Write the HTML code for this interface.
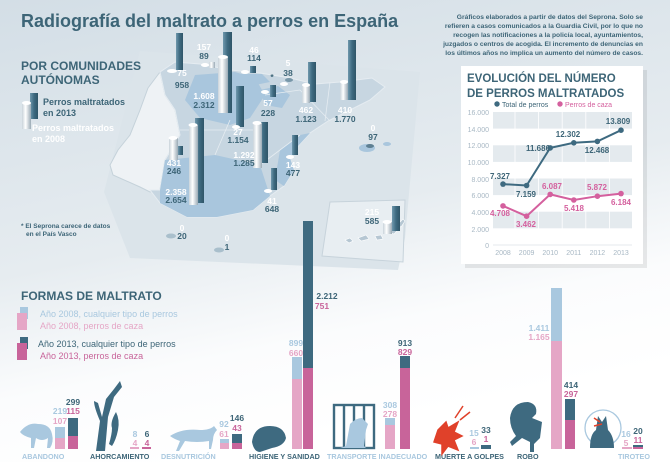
<!DOCTYPE html>
<html><head><meta charset="utf-8"><style>
html,body{margin:0;padding:0;width:670px;height:462px;overflow:hidden;background:#fff}
svg{display:block;font-family:"Liberation Sans",sans-serif}
</style></head><body>
<svg width="670" height="462" viewBox="0 0 670 462" xmlns="http://www.w3.org/2000/svg">
<defs>
<linearGradient id="bg" x1="0" y1="0" x2="0.3" y2="1">
<stop offset="0" stop-color="#d3dee6"/><stop offset="0.55" stop-color="#e6ecf0"/><stop offset="0.8" stop-color="#fbfcfd"/><stop offset="1" stop-color="#ffffff"/></linearGradient>
<linearGradient id="cylD" x1="0" x2="1"><stop offset="0" stop-color="#6f98ad"/><stop offset="0.5" stop-color="#3e6a80"/><stop offset="1" stop-color="#2f5568"/></linearGradient>
<linearGradient id="cylL" x1="0" x2="1"><stop offset="0" stop-color="#c9d3da"/><stop offset="0.4" stop-color="#ffffff"/><stop offset="1" stop-color="#9aaab5"/></linearGradient>
</defs>
<rect width="670" height="462" fill="url(#bg)"/>
<polygon points="140,51 420,72 405,238 398,270 130,258 104,192" fill="#dbe4ea"/>
<polygon points="330,202 405,200 403,262 322,256" fill="#e8eef2" stroke="#c7d3db"/>
<polygon points="160,72 165,95 175,110 180,135 165,160 160,190 150,192 140,187 113,175 110,165 118,150 130,135 140,110 148,88" fill="#eef2f5" stroke="#c5d2da"/>
<polygon points="160,72 175,62 200,64 230,70 260,73 290,78 315,84 340,82 372,78 385,87 370,100 350,110 328,121 310,133 298,146 290,158 294,170 284,186 270,196 253,210 217,217 187,217 160,203 150,190 160,190 165,160 180,135 175,110 165,95" fill="#c7d6e1" stroke="#e5ecf1" stroke-width="1"/>
<polygon points="195,75 235,72 255,78 265,95 250,118 230,125 200,118 185,100" fill="#a9c6dd"/>
<polygon points="160,190 165,160 215,155 260,165 270,196 253,210 217,217 187,217 160,203" fill="#a9c6dd"/>
<polygon points="298,146 290,158 294,170 284,186 275,180 280,150 300,135 310,133" fill="#a9c6dd"/>
<polygon points="260,90 278,86 290,95 282,108 265,105" fill="#a9c6dd"/>
<polygon points="235,74 262,74 270,82 250,86" fill="#a9c6dd"/>
<path d="M180,130 L260,130 M215,155 L230,120 M265,95 L300,90 M300,90 L330,121 M260,165 L300,135 M330,82 L325,121" stroke="#e5ecf1" stroke-width="0.8" fill="none"/>
<ellipse cx="367" cy="148" rx="8" ry="4" fill="#a9c6dd"/><ellipse cx="387" cy="144" rx="4" ry="2" fill="#a9c6dd"/>
<ellipse cx="171" cy="236" rx="5" ry="2.5" fill="#a9bfcc"/><ellipse cx="219" cy="250" rx="5" ry="2.5" fill="#a9bfcc"/>
<path d="M345,240 l5,-2 l3,3 l-4,2z M358,238 l8,-3 l3,4 l-8,2z M375,236 l6,-1 l2,4 l-6,1z M388,232 l8,-5 l3,2 l-5,5z M397,225 l6,-6 l2,2 l-4,6z" fill="#b6c7d3" stroke="#fff" stroke-width="0.6"/>
<g>
<rect x="176" y="33" width="7" height="37" fill="url(#cylD)"/><ellipse cx="172" cy="71" rx="5" ry="2" fill="#fff"/>
<rect x="209" y="62" width="6" height="6" fill="url(#cylL)"/><ellipse cx="205" cy="65" rx="4" ry="2" fill="#fff"/>
<rect x="223" y="32" width="9" height="81" fill="url(#cylD)"/><rect x="218" y="57" width="10" height="56" fill="url(#cylL)"/><ellipse cx="223" cy="57" rx="5" ry="2" fill="#fff"/>
<rect x="250" y="66" width="6" height="7" fill="url(#cylD)"/><ellipse cx="245" cy="72" rx="4" ry="2" fill="#fff"/>
<ellipse cx="289" cy="80" rx="4" ry="2" fill="#7897a8"/><ellipse cx="284" cy="84" rx="4" ry="2" fill="#fff"/>
<rect x="270" y="85" width="6" height="12" fill="url(#cylD)"/><ellipse cx="265" cy="92" rx="4" ry="2" fill="#fff"/>
<rect x="236" y="86" width="8" height="41" fill="url(#cylD)"/><ellipse cx="236" cy="127" rx="4" ry="2" fill="#fff"/>
<rect x="308" y="62" width="8" height="40" fill="url(#cylD)"/><rect x="302" y="85" width="8" height="18" fill="url(#cylL)"/><ellipse cx="306" cy="85" rx="4" ry="2" fill="#fff"/>
<rect x="348" y="40" width="8" height="60" fill="url(#cylD)"/><rect x="340" y="82" width="8" height="18" fill="url(#cylL)"/><ellipse cx="344" cy="82" rx="4" ry="2" fill="#fff"/>
<rect x="259" y="122" width="9" height="41" fill="url(#cylD)"/><rect x="253" y="123" width="9" height="45" fill="url(#cylL)"/><ellipse cx="257" cy="123" rx="4.5" ry="2" fill="#fff"/>
<rect x="178" y="146" width="5" height="9" fill="url(#cylD)"/><rect x="169" y="138" width="9" height="22" fill="url(#cylL)"/><ellipse cx="173" cy="138" rx="4.5" ry="2" fill="#fff"/>
<rect x="195" y="118" width="9" height="85" fill="url(#cylD)"/><rect x="189" y="125" width="9" height="80" fill="url(#cylL)"/><ellipse cx="193" cy="125" rx="4.5" ry="2" fill="#fff"/>
<rect x="292" y="135" width="6" height="20" fill="url(#cylD)"/><ellipse cx="290" cy="157" rx="4" ry="2" fill="#fff"/>
<rect x="271" y="168" width="6" height="22" fill="url(#cylD)"/><ellipse cx="268" cy="191" rx="4" ry="2" fill="#fff"/>
<ellipse cx="370" cy="146" rx="4" ry="2" fill="#5e7f92"/>
<rect x="392" y="206" width="8" height="25" fill="url(#cylD)"/><rect x="383" y="222" width="9" height="12" fill="url(#cylL)"/><ellipse cx="387" cy="222" rx="4.5" ry="2" fill="#fff"/>
</g>
<g font-size="8.5" font-weight="bold" text-anchor="middle">
<g fill="#fff"><text x="182" y="76">75</text><text x="204" y="50">157</text><text x="254" y="53">46</text><text x="288" y="66">5</text><text x="204" y="99">1.608</text><text x="268" y="106">57</text><text x="306" y="113">462</text><text x="345" y="113">410</text><text x="238" y="135">27</text><text x="244" y="158">1.292</text><text x="174" y="166">431</text><text x="293" y="168">143</text><text x="373" y="131">0</text><text x="176" y="195">2.358</text><text x="272" y="204">41</text><text x="182" y="231">0</text><text x="227" y="241">0</text><text x="372" y="215">215</text></g>
<g fill="#3d6577"><text x="182" y="88">958</text><text x="204" y="59">89</text><text x="254" y="61">114</text><text x="288" y="76">38</text><text x="204" y="108">2.312</text><text x="268" y="116">228</text><text x="306" y="122">1.123</text><text x="345" y="122">1.770</text><text x="238" y="143">1.154</text><text x="244" y="166">1.285</text><text x="174" y="174">246</text><text x="293" y="176">477</text><text x="373" y="140">97</text><text x="176" y="203">2.654</text><text x="272" y="212">648</text><text x="182" y="239">20</text><text x="227" y="250">1</text><text x="372" y="224">585</text></g>
<text x="272" y="80" fill="#3d6577">*</text>
</g>
<text x="21" y="27" font-size="18" font-weight="bold" fill="#3d6577">Radiografía del maltrato a perros en España</text>
<g font-size="6.7" font-weight="bold" fill="#3d6577" text-anchor="end">
<text x="643" y="19">Gráficos elaborados a partir de datos del Seprona. Solo se</text>
<text x="643" y="28">refieren a casos comunicados a la Guardia Civil, por lo que no</text>
<text x="643" y="37">recogen las notificaciones a la policía local, ayuntamientos,</text>
<text x="643" y="46">juzgados o centros de acogida. El incremento de denuncias en</text>
<text x="643" y="55">los últimos años no implica un aumento del número de casos.</text>
</g>
<g font-weight="bold" fill="#3d6577">
<text x="21" y="70" font-size="12">POR COMUNIDADES</text>
<text x="21" y="84" font-size="12">AUTÓNOMAS</text>
<text x="43" y="105" font-size="9">Perros maltratados</text>
<text x="43" y="116" font-size="9">en 2013</text>
<text x="32" y="131" font-size="9" fill="#fff">Perros maltratados</text>
<text x="32" y="142" font-size="9" fill="#fff">en 2008</text>
<text x="21" y="228" font-size="6.5">* El Seprona carece de datos</text>
<text x="26" y="236" font-size="6.5">en el País Vasco</text>
</g>
<rect x="30" y="93" width="8" height="26" fill="url(#cylD)"/><rect x="22" y="103" width="9" height="26" fill="url(#cylL)"/><ellipse cx="26.5" cy="103" rx="4.5" ry="2" fill="#fff"/>
<rect x="465" y="70" width="182" height="198" fill="#000" opacity="0.08"/>
<rect x="461" y="66" width="182" height="198" fill="#fff"/>
<g font-weight="bold" fill="#3d6577" font-size="11.5"><text x="467" y="82">EVOLUCIÓN DEL NÚMERO</text><text x="467" y="97">DE PERROS MALTRATADOS</text></g>
<circle cx="497" cy="104" r="2.7" fill="#3e6a80"/><text x="502" y="107" font-size="7" fill="#3d6577">Total de perros</text>
<circle cx="560" cy="104" r="2.7" fill="#d4609e"/><text x="565" y="107" font-size="7" fill="#d4609e">Perros de caza</text>
<g fill="#e4eaee"><rect x="493" y="112" width="139" height="16.6"/><rect x="493" y="145.3" width="139" height="16.6"/><rect x="493" y="178.5" width="139" height="16.6"/><rect x="493" y="211.7" width="139" height="16.6"/></g>
<g stroke="#fff" stroke-width="0.8"><line x1="515" y1="112" x2="515" y2="245"/><line x1="538.6" y1="112" x2="538.6" y2="245"/><line x1="562.2" y1="112" x2="562.2" y2="245"/><line x1="585.8" y1="112" x2="585.8" y2="245"/><line x1="609.4" y1="112" x2="609.4" y2="245"/></g>
<line x1="493" y1="245" x2="632" y2="245" stroke="#e4eaee"/>
<g font-size="7" fill="#a8b8c4" text-anchor="end"><text x="489" y="115">16.000</text><text x="489" y="132">14.000</text><text x="489" y="148">12.000</text><text x="489" y="165">10.000</text><text x="489" y="182">8.000</text><text x="489" y="198">6.000</text><text x="489" y="215">4.000</text><text x="489" y="232">2.000</text><text x="489" y="248">0</text></g>
<g font-size="7" fill="#a8b8c4" text-anchor="middle"><text x="503" y="255">2008</text><text x="526.6" y="255">2009</text><text x="550.2" y="255">2010</text><text x="573.8" y="255">2011</text><text x="597.4" y="255">2012</text><text x="621" y="255">2013</text></g>
<polyline points="503,184.1 526.6,185.5 550.2,147.9 573.8,142.8 597.4,141.4 621,130.2" fill="none" stroke="#3e6a80" stroke-width="2"/>
<polyline points="503,205.9 526.6,216.2 550.2,194.4 573.8,200 597.4,196.2 621,193.6" fill="none" stroke="#d4609e" stroke-width="2"/>
<g fill="#3e6a80"><circle cx="503" cy="184.1" r="2.8"/><circle cx="526.6" cy="185.5" r="2.8"/><circle cx="550.2" cy="147.9" r="2.8"/><circle cx="573.8" cy="142.8" r="2.8"/><circle cx="597.4" cy="141.4" r="2.8"/><circle cx="621" cy="130.2" r="2.8"/></g>
<g fill="#d4609e"><circle cx="503" cy="205.9" r="2.8"/><circle cx="526.6" cy="216.2" r="2.8"/><circle cx="550.2" cy="194.4" r="2.8"/><circle cx="573.8" cy="200" r="2.8"/><circle cx="597.4" cy="196.2" r="2.8"/><circle cx="621" cy="193.6" r="2.8"/></g>
<g font-size="8" font-weight="bold" fill="#3d6577" text-anchor="middle"><text x="500" y="179">7.327</text><text x="526" y="197">7.159</text><text x="538" y="151">11.686</text><text x="568" y="137">12.302</text><text x="597" y="153">12.468</text><text x="618" y="124">13.809</text></g>
<g font-size="8" font-weight="bold" fill="#d4609e" text-anchor="middle"><text x="500" y="216">4.708</text><text x="526" y="227">3.462</text><text x="552" y="189">6.087</text><text x="574" y="211">5.418</text><text x="597" y="190">5.872</text><text x="621" y="205">6.184</text></g>
<text x="21" y="300" font-size="12" font-weight="bold" fill="#3d6577">FORMAS DE MALTRATO</text>
<rect x="20" y="307" width="8" height="12" fill="#a9c8df"/><rect x="17" y="313" width="10" height="17" fill="#e5a6c6"/>
<rect x="20" y="337" width="8" height="12" fill="#3e6a80"/><rect x="17" y="343" width="10" height="17" fill="#c8649a"/>
<g font-size="9"><text x="40" y="317" fill="#a9c8df">Año 2008, cualquier tipo de perros</text><text x="40" y="329" fill="#e5a6c6">Año 2008, perros de caza</text><text x="38" y="347" fill="#3d6577">Año 2013, cualquier tipo de perros</text><text x="40" y="359" fill="#c8649a">Año 2013, perros de caza</text></g>
<g>
<rect x="55" y="427" width="10" height="22" fill="#a9c8df"/><rect x="55" y="438" width="10" height="11" fill="#e5a6c6"/><rect x="68" y="418" width="10" height="31" fill="#3e6a80"/><rect x="68" y="436" width="10" height="13" fill="#c8649a"/>
<rect x="130" y="447" width="9" height="2" fill="#e5a6c6"/><rect x="142" y="447" width="9" height="2" fill="#c8649a"/>
<rect x="220" y="439" width="9" height="10" fill="#a9c8df"/><rect x="220" y="443" width="9" height="6" fill="#e5a6c6"/><rect x="232" y="434" width="10" height="15" fill="#3e6a80"/><rect x="232" y="443" width="10" height="6" fill="#c8649a"/>
<rect x="292" y="357" width="10" height="92" fill="#a9c8df"/><rect x="292" y="379" width="10" height="70" fill="#e5a6c6"/><rect x="303" y="221" width="10" height="228" fill="#3e6a80"/><rect x="303" y="368" width="10" height="81" fill="#c8649a"/>
<rect x="385" y="418" width="10" height="31" fill="#a9c8df"/><rect x="385" y="425" width="10" height="24" fill="#e5a6c6"/><rect x="400" y="356" width="10" height="93" fill="#3e6a80"/><rect x="400" y="368" width="10" height="81" fill="#c8649a"/>
<rect x="470" y="447" width="9" height="2" fill="#a9c8df"/><rect x="481" y="445" width="10" height="4" fill="#3e6a80"/>
<rect x="551" y="288" width="11" height="161" fill="#a9c8df"/><rect x="551" y="341" width="11" height="108" fill="#e5a6c6"/><rect x="565" y="399" width="10" height="50" fill="#3e6a80"/><rect x="565" y="420" width="10" height="29" fill="#c8649a"/>
<rect x="622" y="447" width="10" height="2" fill="#e5a6c6"/><rect x="633" y="445" width="10" height="4" fill="#3e6a80"/><rect x="633" y="447" width="10" height="2" fill="#c8649a"/>
</g>
<g font-size="8.5" font-weight="bold" text-anchor="middle">
<text x="60" y="414" fill="#a9c8df">219</text><text x="60" y="424" fill="#e5a6c6">107</text><text x="73" y="405" fill="#3d6577">299</text><text x="73" y="414" fill="#c8649a">115</text>
<text x="135" y="437" fill="#a9c8df">8</text><text x="135" y="446" fill="#e5a6c6">4</text><text x="147" y="437" fill="#3d6577">6</text><text x="147" y="446" fill="#c8649a">4</text>
<text x="224" y="427" fill="#a9c8df">92</text><text x="224" y="437" fill="#e5a6c6">61</text><text x="237" y="421" fill="#3d6577">146</text><text x="237" y="431" fill="#c8649a">43</text>
<text x="296" y="346" fill="#a9c8df">899</text><text x="296" y="356" fill="#e5a6c6">660</text><text x="327" y="299" fill="#3d6577">2.212</text><text x="322" y="309" fill="#c8649a">751</text>
<text x="390" y="408" fill="#a9c8df">308</text><text x="390" y="417" fill="#e5a6c6">278</text><text x="405" y="346" fill="#3d6577">913</text><text x="405" y="355" fill="#c8649a">829</text>
<text x="474" y="436" fill="#a9c8df">15</text><text x="474" y="445" fill="#e5a6c6">6</text><text x="486" y="433" fill="#3d6577">33</text><text x="486" y="442" fill="#c8649a">1</text>
<text x="539" y="331" fill="#a9c8df">1.411</text><text x="539" y="340" fill="#e5a6c6">1.165</text><text x="571" y="388" fill="#3d6577">414</text><text x="571" y="397" fill="#c8649a">297</text>
<text x="626" y="437" fill="#a9c8df">16</text><text x="626" y="446" fill="#e5a6c6">5</text><text x="638" y="434" fill="#3d6577">20</text><text x="638" y="443" fill="#c8649a">11</text>
</g>
<g font-size="7.2" font-weight="bold">
<text x="22" y="459" fill="#a9c8df">ABANDONO</text><text x="90" y="459" fill="#3d6577">AHORCAMIENTO</text><text x="161" y="459" fill="#a9c8df">DESNUTRICIÓN</text><text x="249" y="459" fill="#3d6577">HIGIENE Y SANIDAD</text><text x="327" y="459" fill="#a9c8df">TRANSPORTE INADECUADO</text><text x="435" y="459" fill="#3d6577">MUERTE A GOLPES</text><text x="517" y="459" fill="#3d6577">ROBO</text><text x="618" y="459" fill="#a9c8df">TIROTEO</text>
</g>
<path d="M20,432 q8,-10 18,-8 q12,0 14,10 q2,8 -2,14 l-3,0 l1,-10 q-6,4 -12,0 l-2,10 l-3,0 l0,-10 q-8,-2 -11,-6z" fill="#a9c8df"/>
<path d="M96,451 l4,-30 q-6,-14 -6,-20 l4,2 l4,14 l4,-18 l8,-10 l6,-8 l2,6 l-8,10 l-6,20 l-3,34z" fill="#3e6a80"/>
<path d="M116,412 q4,8 2,18 q-2,10 -6,16 l-3,-2 q3,-10 3,-16 q-2,-6 4,-16z" fill="#3e6a80"/>
<path d="M170,436 q12,-8 30,-6 q10,0 14,-4 l3,4 q-4,4 -4,10 l-2,9 l-2,0 l0,-8 q-12,2 -24,0 l-6,10 l-3,0 l4,-10 q-6,-2 -10,-5z" fill="#a9c8df"/>
<path d="M252,442 q2,-16 18,-16 q14,0 16,12 q-2,8 -14,10 l-12,4 q-6,0 -8,-10z" fill="#3e6a80"/>
<g stroke="#3e6a80" stroke-width="2.4" fill="none"><rect x="334" y="405" width="40" height="43"/><line x1="344" y1="405" x2="344" y2="448"/><line x1="354" y1="405" x2="354" y2="448"/><line x1="364" y1="405" x2="364" y2="448"/></g>
<path d="M340,448 l6,-2 l4,-22 q6,-6 12,-6 l6,6 l-2,6 l-2,16 l2,2z" fill="#a9c8df"/>
<path d="M438,430 l8,-8 l2,6 l10,-6 l-4,10 l8,4 l-8,4 l4,10 l-10,-4 l-6,8 l0,-10 l-8,-2z M455,418 l8,-12 M460,420 l10,-8" fill="#e0412a" stroke="#e0412a" stroke-width="1.5"/>
<path d="M510,418 q2,-16 18,-16 q10,2 8,12 l-4,4 l10,4 l-2,16 l-6,6 l0,8 l-4,0 l0,-10 l-8,-4 l-10,8 l-2,-4 l6,-6 q-6,-8 -6,-18z" fill="#3e6a80"/>
<circle cx="603" cy="428" r="18" fill="none" stroke="#a9c8df" stroke-width="1.3"/>
<path d="M590,448 q0,-14 6,-18 l2,-14 l4,6 l4,-6 l2,14 q6,6 6,18z" fill="#3e6a80"/>
<path d="M600,422 l-6,-4 M602,424 l-8,2" stroke="#e0412a" stroke-width="1.5"/>
</svg>
</body></html>
